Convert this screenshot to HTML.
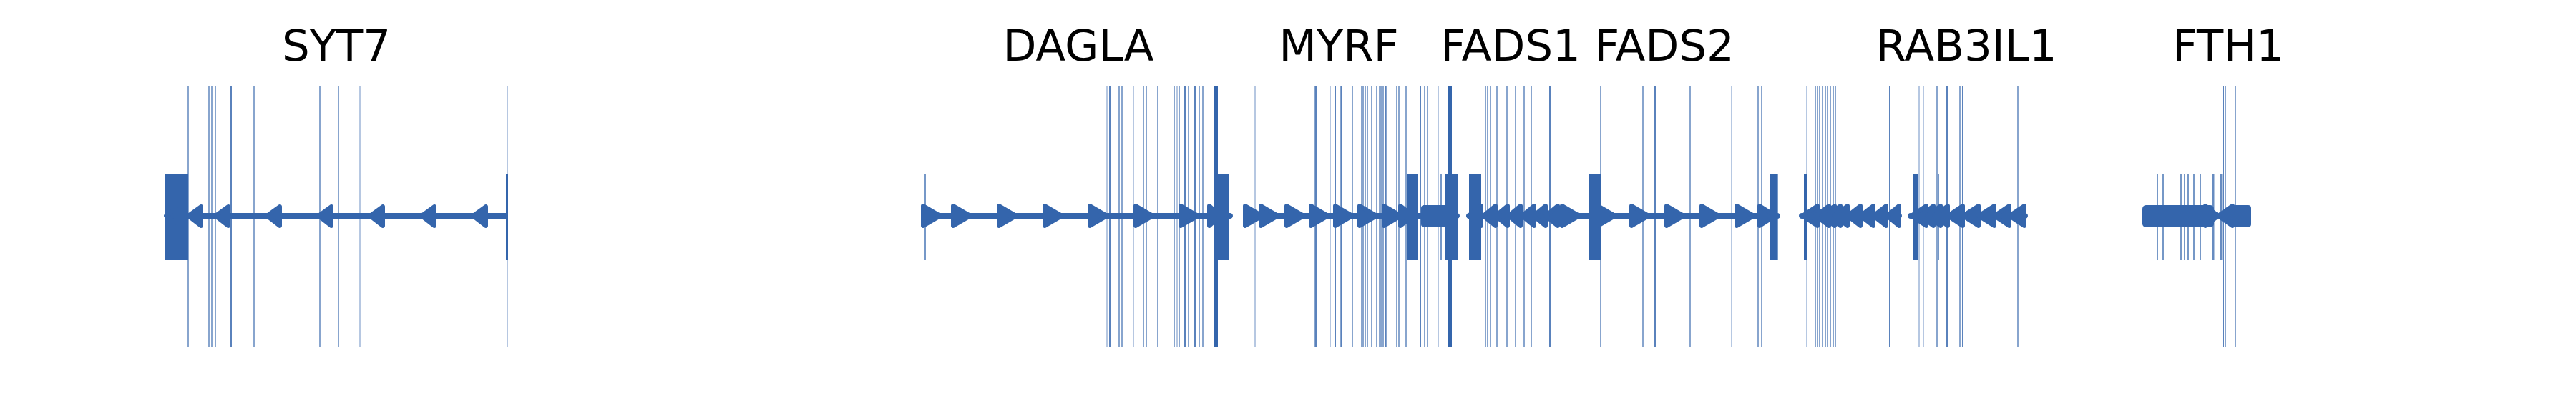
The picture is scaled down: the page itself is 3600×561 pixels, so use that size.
<!DOCTYPE html>
<html><head><meta charset="utf-8"><style>
html,body{margin:0;padding:0;background:#fff;width:3600px;height:561px;overflow:hidden}
svg{display:block}
text{font-family:"DejaVu Sans","Liberation Sans",sans-serif;font-size:61px;fill:#000}
</style></head><body>
<svg width="3600" height="561" viewBox="0 0 3600 561" xmlns="http://www.w3.org/2000/svg">
<text x="470" y="85" text-anchor="middle">SYT7</text>
<text x="1507" y="85" text-anchor="middle">DAGLA</text>
<text x="1871" y="85" text-anchor="middle">MYRF</text>
<text x="2111" y="85" text-anchor="middle">FADS1</text>
<text x="2326" y="85" text-anchor="middle">FADS2</text>
<text x="2748" y="85" text-anchor="middle">RAB3IL1</text>
<text x="3114" y="85" text-anchor="middle">FTH1</text>

<g stroke="#3465ac" stroke-width="1.8" stroke-opacity="0.65">
<line x1="263" y1="120" x2="263" y2="486"/><line x1="292" y1="120" x2="292" y2="486"/><line x1="296" y1="120" x2="296" y2="486"/><line x1="301" y1="120" x2="301" y2="486"/><line x1="323" y1="120" x2="323" y2="486" stroke-opacity="0.9"/><line x1="355" y1="120" x2="355" y2="486"/><line x1="447" y1="120" x2="447" y2="486"/><line x1="473" y1="120" x2="473" y2="486"/><line x1="503" y1="120" x2="503" y2="486" stroke-opacity="0.4"/><line x1="709" y1="120" x2="709" y2="486" stroke-opacity="0.4"/>
<line x1="1547" y1="120" x2="1547" y2="486" stroke-opacity="0.4"/><line x1="1551" y1="120" x2="1551" y2="486" stroke-opacity="0.9"/><line x1="1564" y1="120" x2="1564" y2="486"/><line x1="1568" y1="120" x2="1568" y2="486"/><line x1="1584" y1="120" x2="1584" y2="486" stroke-opacity="0.4"/><line x1="1598" y1="120" x2="1598" y2="486"/><line x1="1602" y1="120" x2="1602" y2="486"/><line x1="1618" y1="120" x2="1618" y2="486"/><line x1="1641" y1="120" x2="1641" y2="486"/><line x1="1645" y1="120" x2="1645" y2="486" stroke-opacity="0.4"/><line x1="1648" y1="120" x2="1648" y2="486"/><line x1="1656" y1="120" x2="1656" y2="486" stroke-opacity="0.9"/><line x1="1661" y1="120" x2="1661" y2="486"/><line x1="1670" y1="120" x2="1670" y2="486" stroke-opacity="0.9"/><line x1="1676" y1="120" x2="1676" y2="486"/><line x1="1681" y1="120" x2="1681" y2="486"/>
<line x1="1754" y1="120" x2="1754" y2="486" stroke-opacity="0.4"/>
<line x1="1837" y1="120" x2="1837" y2="486"/><line x1="1839" y1="120" x2="1839" y2="486" stroke-opacity="0.9"/><line x1="1859" y1="120" x2="1859" y2="486" stroke-opacity="0.4"/><line x1="1866" y1="120" x2="1866" y2="486" stroke-opacity="0.9"/><line x1="1873" y1="120" x2="1873" y2="486"/><line x1="1875" y1="120" x2="1875" y2="486" stroke-opacity="0.9"/><line x1="1890" y1="120" x2="1890" y2="486"/><line x1="1903" y1="120" x2="1903" y2="486"/><line x1="1905" y1="120" x2="1905" y2="486"/><line x1="1908" y1="120" x2="1908" y2="486"/><line x1="1911" y1="120" x2="1911" y2="486"/><line x1="1917" y1="120" x2="1917" y2="486"/><line x1="1924" y1="120" x2="1924" y2="486"/><line x1="1928" y1="120" x2="1928" y2="486"/><line x1="1930" y1="120" x2="1930" y2="486"/><line x1="1933" y1="120" x2="1933" y2="486"/><line x1="1936" y1="120" x2="1936" y2="486" stroke-opacity="0.9"/><line x1="1938" y1="120" x2="1938" y2="486"/><line x1="1952" y1="120" x2="1952" y2="486"/><line x1="1955" y1="120" x2="1955" y2="486"/><line x1="1965" y1="120" x2="1965" y2="486"/><line x1="1985" y1="120" x2="1985" y2="486" stroke-opacity="0.9"/><line x1="1991" y1="120" x2="1991" y2="486"/><line x1="1995" y1="120" x2="1995" y2="486"/><line x1="2010" y1="120" x2="2010" y2="486" stroke-opacity="0.4"/>
<line x1="2076" y1="120" x2="2076" y2="486"/><line x1="2079" y1="120" x2="2079" y2="486"/><line x1="2083" y1="120" x2="2083" y2="486"/><line x1="2092" y1="120" x2="2092" y2="486"/><line x1="2106" y1="120" x2="2106" y2="486"/><line x1="2118" y1="120" x2="2118" y2="486"/><line x1="2130" y1="120" x2="2130" y2="486"/><line x1="2140" y1="120" x2="2140" y2="486"/><line x1="2166" y1="120" x2="2166" y2="486" stroke-opacity="0.9"/>
<line x1="2237" y1="120" x2="2237" y2="486"/><line x1="2296" y1="120" x2="2296" y2="486"/><line x1="2313" y1="120" x2="2313" y2="486" stroke-opacity="0.9"/><line x1="2362" y1="120" x2="2362" y2="486"/><line x1="2420" y1="120" x2="2420" y2="486" stroke-opacity="0.4"/><line x1="2457" y1="120" x2="2457" y2="486"/><line x1="2462" y1="120" x2="2462" y2="486"/>
<line x1="2525" y1="120" x2="2525" y2="486" stroke-opacity="0.4"/><line x1="2537" y1="120" x2="2537" y2="486"/><line x1="2540" y1="120" x2="2540" y2="486"/><line x1="2543" y1="120" x2="2543" y2="486"/><line x1="2547" y1="120" x2="2547" y2="486"/><line x1="2551" y1="120" x2="2551" y2="486"/><line x1="2554" y1="120" x2="2554" y2="486"/><line x1="2558" y1="120" x2="2558" y2="486"/><line x1="2562" y1="120" x2="2562" y2="486"/><line x1="2565" y1="120" x2="2565" y2="486"/><line x1="2641" y1="120" x2="2641" y2="486" stroke-opacity="0.9"/>
<line x1="2682" y1="120" x2="2682" y2="486" stroke-opacity="0.4"/><line x1="2688" y1="120" x2="2688" y2="486" stroke-opacity="0.4"/><line x1="2707" y1="120" x2="2707" y2="486"/><line x1="2721" y1="120" x2="2721" y2="486" stroke-opacity="0.9"/><line x1="2739" y1="120" x2="2739" y2="486"/><line x1="2743" y1="120" x2="2743" y2="486" stroke-opacity="0.9"/><line x1="2820" y1="120" x2="2820" y2="486"/>
<line x1="3107" y1="120" x2="3107" y2="486" stroke-opacity="0.9"/><line x1="3110" y1="120" x2="3110" y2="486"/><line x1="3124" y1="120" x2="3124" y2="486"/>
</g>
<g stroke="#3465ac" stroke-width="1.8" stroke-opacity="0.75">
<line x1="1293" y1="243" x2="1293" y2="364"/><line x1="2484" y1="243" x2="2484" y2="364"/>
<line x1="3015" y1="243" x2="3015" y2="364"/><line x1="3023" y1="243" x2="3023" y2="364"/><line x1="3048" y1="243" x2="3048" y2="364"/><line x1="3053" y1="243" x2="3053" y2="364"/><line x1="3058" y1="243" x2="3058" y2="364"/><line x1="3066" y1="243" x2="3066" y2="364"/><line x1="3075" y1="243" x2="3075" y2="364"/><line x1="3093" y1="243" x2="3093" y2="364" stroke-width="3"/><line x1="3104" y1="243" x2="3104" y2="364" stroke-width="3"/>
<line x1="2014" y1="243" x2="2014" y2="364"/><line x1="2709" y1="243" x2="2709" y2="364"/>
</g>
<rect x="1696" y="120" width="6" height="366" fill="#3465ac"/>
<rect x="2024" y="120" width="5" height="366" fill="#3465ac"/>

<g stroke="#3465ac" stroke-width="8" stroke-linecap="round">
<line x1="235" y1="302" x2="709" y2="302" stroke-linecap="butt"/>
<line x1="1291" y1="302" x2="1719" y2="302"/>
<line x1="1741" y1="302" x2="2036" y2="302"/>
<line x1="2053" y1="302" x2="2180" y2="302"/>
<line x1="2183" y1="302" x2="2484" y2="302"/>
<line x1="2518" y1="302" x2="2654" y2="302"/>
<line x1="2670" y1="302" x2="2830" y2="302"/>
</g>
<g fill="#3465ac">
<rect x="231" y="243" width="32" height="121"/>
<rect x="707" y="243" width="3" height="121"/>
<rect x="1696" y="243" width="22" height="121"/>
<rect x="1967" y="243" width="15" height="121"/>
<rect x="2020" y="243" width="17" height="121"/>
<rect x="2053" y="243" width="17" height="121"/>
<rect x="2221" y="243" width="16" height="121"/>
<rect x="2473" y="243" width="11" height="121"/>
<rect x="2521" y="243" width="4" height="121"/>
<rect x="2674" y="243" width="6" height="121"/>
<rect x="1986" y="287" width="40" height="31" rx="4"/>
<rect x="3120" y="287" width="26" height="31" rx="4"/>
<rect x="2994" y="287" width="100" height="31" rx="5"/>
</g>
<g fill="#3465ac" stroke="#3465ac" stroke-width="6" stroke-linejoin="round">
<polygon points="232,302 246,292 246,312"/>
<polygon points="263,302 281,289 281,316"/>
<polygon points="301,302 319,289 319,316"/>
<polygon points="373,302 391,289 391,316"/>
<polygon points="445,302 463,289 463,316"/>
<polygon points="517,302 535,289 535,316"/>
<polygon points="589,302 607,289 607,316"/>
<polygon points="661,302 679,289 679,316"/>
<polygon points="1290,288 1314,302 1290,316"/>
<polygon points="1332,288 1356,302 1332,316"/>
<polygon points="1396,288 1420,302 1396,316"/>
<polygon points="1460,288 1484,302 1460,316"/>
<polygon points="1523,288 1547,302 1523,316"/>
<polygon points="1587,288 1611,302 1587,316"/>
<polygon points="1650,288 1674,302 1650,316"/>
<polygon points="1690,288 1705,302 1690,316"/>
<polygon points="1740,288 1764,302 1740,316"/>
<polygon points="1762,288 1786,302 1762,316"/>
<polygon points="1798,288 1822,302 1798,316"/>
<polygon points="1832,288 1856,302 1832,316"/>
<polygon points="1866,288 1890,302 1866,316"/>
<polygon points="1900,288 1924,302 1900,316"/>
<polygon points="1934,288 1958,302 1934,316"/>
<polygon points="1957,288 1975,302 1957,316"/>
<polygon points="2052,302 2070,288 2070,316"/>
<polygon points="2073,302 2090,288 2090,316"/>
<polygon points="2090,302 2107,288 2107,316"/>
<polygon points="2108,302 2125,288 2125,316"/>
<polygon points="2127,302 2144,288 2144,316"/>
<polygon points="2143,302 2160,288 2160,316"/>
<polygon points="2160,302 2177,288 2177,316"/>
<polygon points="2183,288 2207,302 2183,316"/>
<polygon points="2233,288 2257,302 2233,316"/>
<polygon points="2280,288 2304,302 2280,316"/>
<polygon points="2329,288 2353,302 2329,316"/>
<polygon points="2378,288 2402,302 2378,316"/>
<polygon points="2427,288 2451,302 2427,316"/>
<polygon points="2459,288 2481,302 2459,316"/>
<polygon points="2519,302 2540,288 2540,316"/>
<polygon points="2537,302 2556,288 2556,316"/>
<polygon points="2545,302 2564,288 2564,316"/>
<polygon points="2553,302 2572,288 2572,316"/>
<polygon points="2563,302 2582,288 2582,316"/>
<polygon points="2582,302 2600,288 2600,316"/>
<polygon points="2600,302 2618,288 2618,316"/>
<polygon points="2618,302 2636,288 2636,316"/>
<polygon points="2637,302 2654,288 2654,316"/>
<polygon points="2671,302 2692,288 2692,316"/>
<polygon points="2683,302 2702,288 2702,316"/>
<polygon points="2693,302 2712,288 2712,316"/>
<polygon points="2703,302 2722,288 2722,316"/>
<polygon points="2722,302 2743,288 2743,316"/>
<polygon points="2743,302 2765,288 2765,316"/>
<polygon points="2765,302 2787,288 2787,316"/>
<polygon points="2787,302 2808,288 2808,316"/>
<polygon points="2808,302 2829,288 2829,316"/>
<polygon points="3082,288 3100,302 3082,316"/>
<polygon points="3100,302 3120,288 3120,316"/>
</g>
</svg>
</body></html>
